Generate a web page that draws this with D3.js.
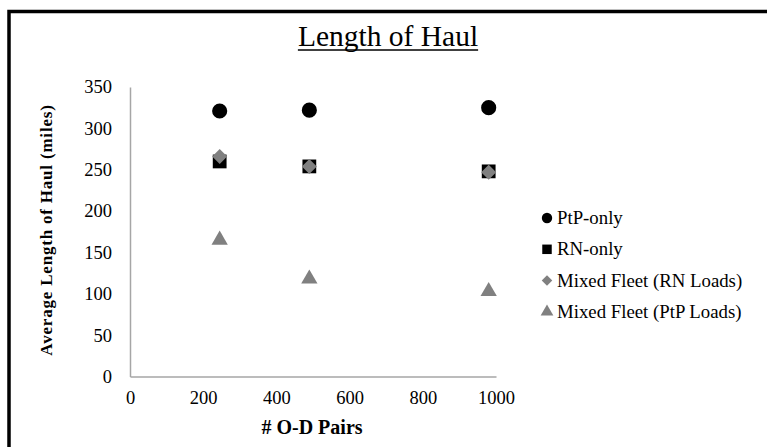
<!DOCTYPE html>
<html>
<head>
<meta charset="utf-8">
<script src="https://cdn.jsdelivr.net/npm/d3@7"></script>
<style>
  body { margin: 0; background: #fff; }
  text { font-family: "Liberation Serif", "Times New Roman", serif; }
</style>
</head>
<body>
<svg width="767" height="447"></svg>
<script>
// donnees
var odPairs = [245, 490, 980];
var seriesNames = ["PtP-only", "RN-only", "Mixed Fleet (RN Loads)", "Mixed Fleet (PtP Loads)"];
var ptpOnly = [321, 322, 325];
var rnOnly = [260, 254, 248];
var mixedRN = [266, 254, 247];
var mixedPtP = [165, 118, 103];
var xTicks = [0, 200, 400, 600, 800, 1000];
var yTicks = [0, 50, 100, 150, 200, 250, 300, 350];

var series = [ptpOnly, rnOnly, mixedRN, mixedPtP];
var shapes = [d3.symbolCircle, d3.symbolSquare, d3.symbolSquare, d3.symbolTriangle];
var sizes = [180, 190, 112, 115];
var legendSizes = [85, 90, 55, 70];
var rotate = [0, 0, 45, 0];
var colors = ["#000", "#000", "#808080", "#808080"];

var svg = d3.select("svg");

// cadre
svg.append("path")
  .attr("d", "M9,447 V11.5 H767")
  .attr("fill", "none")
  .attr("stroke", "#000")
  .attr("stroke-width", 3.5);

var x = d3.scaleLinear().domain([0, 1000]).range([130, 496]);
var y = d3.scaleLinear().domain([0, 350]).range([376.5, 87]);

// axes
var gx = svg.append("g")
  .attr("transform", "translate(0," + y(0) + ")")
  .call(d3.axisBottom(x).tickValues(xTicks).tickSize(0).tickPadding(14).tickFormat(d3.format("d")));
var gy = svg.append("g")
  .attr("transform", "translate(" + x(0) + ",0)")
  .call(d3.axisLeft(y).tickValues(yTicks).tickSize(0).tickPadding(18).tickFormat(d3.format("d")));

[gx, gy].forEach(function(g) {
  g.select(".domain").attr("stroke", "#a6a6a6").attr("stroke-width", 1.5);
  g.selectAll("text")
    .attr("font-family", "Liberation Serif")
    .attr("font-size", 18.5)
    .attr("fill", "#000");
});

// points
series.forEach(function(vals, s) {
  svg.append("g").selectAll("path")
    .data(vals)
    .enter().append("path")
    .attr("d", d3.symbol().type(shapes[s]).size(sizes[s]))
    .attr("transform", function(d, i) {
      return "translate(" + x(odPairs[i]) + "," + y(d) + ") rotate(" + rotate[s] + ")";
    })
    .attr("fill", colors[s]);
});

// titre
var title = svg.append("text")
  .attr("x", 388)
  .attr("y", 46)
  .attr("text-anchor", "middle")
  .attr("font-size", 29.5)
  .text("Length of Haul");
var tb = title.node().getBBox();
svg.append("line")
  .attr("x1", tb.x).attr("x2", tb.x + tb.width)
  .attr("y1", 50).attr("y2", 50)
  .attr("stroke", "#000").attr("stroke-width", 1.5);

// titres des axes
svg.append("text")
  .attr("x", 312)
  .attr("y", 434)
  .attr("text-anchor", "middle")
  .attr("font-size", 20)
  .attr("font-weight", "bold")
  .text("# O-D Pairs");

svg.append("text")
  .attr("transform", "translate(52,230) rotate(-90)")
  .attr("text-anchor", "middle")
  .attr("font-size", 17)
  .attr("font-weight", "bold")
  .attr("letter-spacing", 0.8)
  .text("Average Length of Haul (miles)");

// legende
var legend = svg.append("g").selectAll("g")
  .data(seriesNames)
  .enter().append("g")
  .attr("transform", function(d, i) { return "translate(547," + (218 + i * 31.3) + ")"; });

legend.append("path")
  .attr("d", function(d, i) { return d3.symbol().type(shapes[i]).size(legendSizes[i])(); })
  .attr("transform", function(d, i) { return "rotate(" + rotate[i] + ")"; })
  .attr("fill", function(d, i) { return colors[i]; });

legend.append("text")
  .attr("x", 10)
  .attr("y", 6)
  .attr("font-size", 18.8)
  .text(function(d) { return d; });
</script>
</body>
</html>
